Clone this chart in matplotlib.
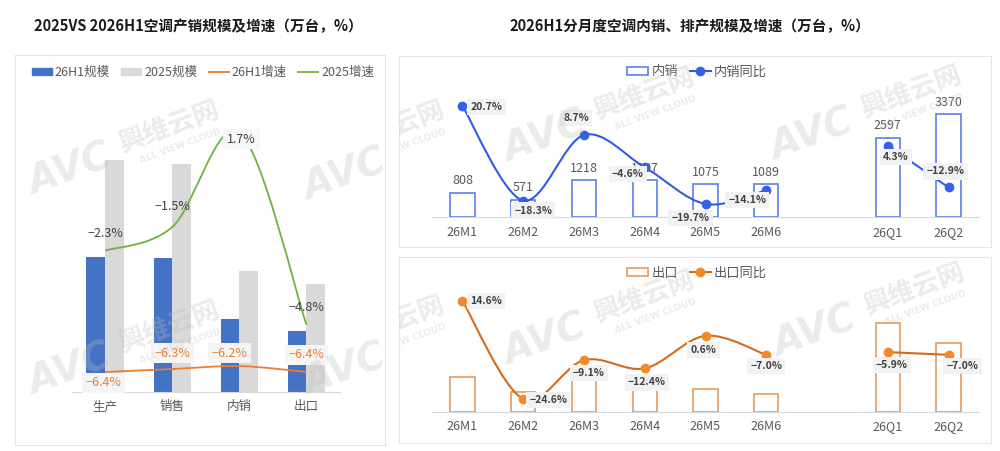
import matplotlib
matplotlib.use('Agg')
import matplotlib.pyplot as plt
from matplotlib.path import Path
from matplotlib.patches import PathPatch, Patch
from matplotlib.lines import Line2D

plt.rcParams['font.family'] = ['Noto Sans CJK SC', 'DejaVu Sans']

# left chart: 2025 vs 2026H1
cats = ['生产', '销售', '内销', '出口']
h1_26 = [10900, 10790, 5870, 4900]
full_25 = [18700, 18380, 9740, 8690]
g_26 = [-6.4, -6.3, -6.2, -6.4]
g_25 = [-2.3, -1.5, 1.7, -4.8]

# right charts: monthly / quarterly
periods = ['26M1', '26M2', '26M3', '26M4', '26M5', '26M6', '26Q1', '26Q2']
dom_m = [808, 571, 1218, 1207, 1075, 1089]
dom_q = [2597, 3370]
dom_yoy_m = [20.7, -18.3, 8.7, -4.6, -19.7, -14.1]
dom_yoy_q = [4.3, -12.9]
exp_m = [1075, 617, 1050, 870, 703, 537]
exp_q = [2745, 2110]
exp_yoy_m = [14.6, -24.6, -9.1, -12.4, 0.6, -7.0]
exp_yoy_q = [-5.9, -7.0]

W, H = 1000, 451
fig = plt.figure(figsize=(10, 4.51), dpi=100)


def rect(x0, y0, x1, y1):
    return [x0 / W, 1 - y1 / H, (x1 - x0) / W, (y1 - y0) / H]


def pct(v):
    return f'{v:.1f}%'.replace('-', '\u2212')


def smooth(ax, xs, ys, **kw):
    pts = list(zip(xs, ys))
    n = len(pts)
    verts, codes = [pts[0]], [Path.MOVETO]
    for i in range(n - 1):
        p0 = pts[i - 1] if i > 0 else pts[i]
        p1, p2 = pts[i], pts[i + 1]
        p3 = pts[i + 2] if i + 2 < n else pts[i + 1]
        c1 = (p1[0] + (p2[0] - p0[0]) / 6, p1[1] + (p2[1] - p0[1]) / 6)
        c2 = (p2[0] - (p3[0] - p1[0]) / 6, p2[1] - (p3[1] - p1[1]) / 6)
        verts += [c1, c2, p2]
        codes += [Path.CURVE4] * 3
    ax.add_patch(PathPatch(Path(verts, codes), fill=False, **kw))


def tag(ax, x, y, s, off, color='#404040', box='#F2F2F2', size=7.5, weight='bold'):
    bb = dict(boxstyle='square,pad=0.3', fc=box, ec='none') if box else None
    ax.annotate(s, (x, y), xytext=off, textcoords='offset pixels', ha='center',
                va='center', fontsize=size, color=color, fontweight=weight,
                bbox=bb, zorder=6, annotation_clip=False)


def style(ax):
    for s in ['top', 'left', 'right']:
        ax.spines[s].set_visible(False)
    ax.spines['bottom'].set_color('#D9D9D9')
    ax.set_yticks([])
    ax.tick_params(axis='x', length=0, pad=6, labelsize=9, labelcolor='#595959')


# panel frames
for r in [(15, 55, 385, 445), (399, 56, 991, 247), (399, 257, 991, 443)]:
    bg = fig.add_axes(rect(*r))
    bg.set_xticks([]); bg.set_yticks([])
    for s in bg.spines.values():
        s.set_color('#E6E6E6')

fig.text(198 / W, 1 - 26 / H, '2025VS 2026H1空调产销规模及增速（万台，%）',
         ha='center', va='center', fontsize=10.5, fontweight='bold', color='#1a1a1a')
fig.text(690 / W, 1 - 26 / H, '2026H1分月度空调内销、排产规模及增速（万台，%）',
         ha='center', va='center', fontsize=10.5, fontweight='bold', color='#1a1a1a')

# ---- left chart
blue, grey, orange, green = '#4472C4', '#D9D9D9', '#ED7D31', '#6DB33F'
ax = fig.add_axes(rect(71.7, 94.7, 340, 391.7))
ax.patch.set_visible(False)
xs = list(range(len(cats)))
ax.bar([x - 0.14 for x in xs], h1_26, 0.28, color=blue)
ax.bar([x + 0.14 for x in xs], full_25, 0.28, color=grey)
ax.set_xlim(-0.5, 3.5)
ax.set_ylim(0, 24000)
ax.set_xticks(xs, cats)
style(ax)
ax2 = ax.twinx()
ax2.set_ylim(-7.066, 2.968)
ax2.set_axis_off()
smooth(ax2, xs, g_25, color=green, lw=1.3)
smooth(ax2, xs, g_26, color=orange, lw=1.3)
off25 = [(0, 17), (0, 20), (2, -7), (0, 17)]
off26 = [(-2, -11), (0, 16), (-10, 13), (0, 17)]
for i in xs:
    tag(ax2, i, g_25[i], pct(g_25[i]), off25[i], color='#404040',
        box='#F7F7F7' if i == 2 else None, size=9, weight='normal')
    tag(ax2, i, g_26[i], pct(g_26[i]), off26[i], color=orange,
        box='#F5F5F5', size=9, weight='normal')
fig.legend([Patch(color=blue), Patch(color=grey),
            Line2D([], [], color=orange, lw=1.3), Line2D([], [], color=green, lw=1.3)],
           ['26H1规模', '2025规模', '26H1增速', '2025增速'],
           loc='center', bbox_to_anchor=(203 / W, 1 - 72 / H), ncol=4, frameon=False,
           fontsize=9, labelcolor='#595959', handlelength=1.6, handleheight=0.5,
           handletextpad=0.25, columnspacing=0.9)

# ---- right charts
mx = list(range(6))
qx = [7, 8]


def right_chart(box, bars_m, bars_q, yoy_m, yoy_q, ylim, ylim2, edge, lc, mc,
                offs, show_vals, legend_y, names):
    a = fig.add_axes(rect(*box))
    a.patch.set_visible(False)
    a.bar(mx + qx, bars_m + bars_q, 0.4, facecolor='white', edgecolor=edge, lw=1.2)
    a.set_xlim(-0.5, 8.5)
    a.set_ylim(*ylim)
    a.set_xticks(mx + qx, periods)
    style(a)
    if show_vals:
        for x, v in zip(mx + qx, bars_m + bars_q):
            a.annotate(str(v), (x, v), xytext=(0, 12), textcoords='offset pixels',
                       ha='center', va='center', fontsize=9, color='#595959')
    b = a.twinx()
    b.set_ylim(*ylim2)
    b.set_axis_off()
    smooth(b, mx, yoy_m, color=lc, lw=1.5, zorder=3)
    smooth(b, qx, yoy_q, color=lc, lw=1.5, zorder=3)
    b.plot(mx + qx, yoy_m + yoy_q, 'o', ms=6, color=mc, zorder=4)
    for x, v, o in zip(mx + qx, yoy_m + yoy_q, offs):
        tag(b, x, v, pct(v), o)
    fig.legend([Patch(facecolor='white', edgecolor=edge, lw=1.2),
                Line2D([], [], color=lc, lw=1.5, marker='o', ms=6, mfc=mc, mec=mc)],
               names, loc='center', bbox_to_anchor=(697 / W, 1 - legend_y / H), ncol=2,
               frameon=False, fontsize=9.5, labelcolor='#595959', handlelength=1.6,
               handleheight=0.6, handletextpad=0.25, columnspacing=0.9)


right_chart((432, 95, 979, 217.3), dom_m, dom_q, dom_yoy_m, dom_yoy_q,
            (0, 4000), (-25.2, 25.2), '#5A7FF0', '#2F5BEA', '#3560E8',
            [(24, -1), (10, -10), (-8, 17), (-17, -7), (-15, -14), (-19, -10),
             (8, -11), (-3, 16)], True, 72, ['内销', '内销同比'])
right_chart((432, 295, 979, 411.7), exp_m, exp_q, exp_yoy_m, exp_yoy_q,
            (0, 3600), (-29.7, 16.9), '#E39A5E', '#D46B1C', '#F08A2C',
            [(24, 0), (25, -1), (5, -13), (2, -14), (-2, -14), (0, -11),
             (4, -13), (14, -11)], False, 273, ['出口', '出口同比'])

# ---- watermarks
for r, anchors in [((15, 55, 385, 445), [(70, 170), (70, 370), (345, 175), (345, 370)]),
                   ((399, 56, 991, 247), [(295, 170), (545, 137), (812, 135)]),
                   ((399, 257, 991, 443), [(295, 365), (545, 340), (815, 332)])]:
    wm = fig.add_axes(rect(*r), zorder=10)
    wm.set_axis_off()
    wm.set_xlim(r[0], r[2])
    wm.set_ylim(r[3], r[1])
    for x, y in anchors:
        kw = dict(ha='center', va='center', rotation=20, color='#BDBDBD', alpha=0.3,
                  clip_on=True, fontweight='bold')
        wm.text(x, y, 'AVC', fontsize=28, style='italic', family='DejaVu Sans', **kw)
        wm.text(x + 100, y - 42, '興维云网', fontsize=19, **kw)
        wm.text(x + 110, y - 24, 'ALL VIEW CLOUD', fontsize=6.5, family='DejaVu Sans', **kw)

fig.savefig('out.png', dpi=100, facecolor='white')
